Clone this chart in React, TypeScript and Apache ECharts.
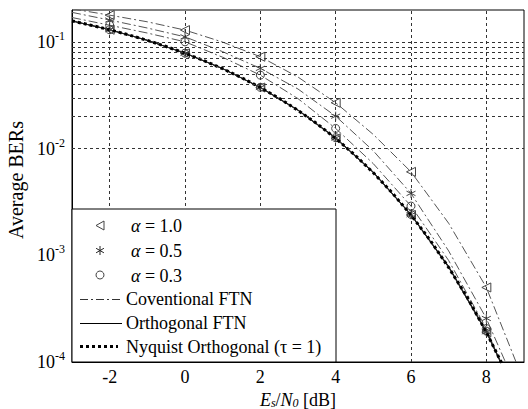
import React, { useEffect, useRef } from "react";
import * as echarts from "echarts";

// Nyquist orthogonal (tau = 1) curve, dense points
const nyquistX = [-3, -2.5, -2, -1.5, -1, -0.5, 0, 0.5, 1, 1.5, 2, 2.5, 3, 3.5, 4, 4.5, 5, 5.5, 6, 6.5, 7, 7.5, 8, 8.5];
const nyquistBER = [0.158, 0.144, 0.1306, 0.117, 0.1038, 0.0909, 0.0786, 0.0671, 0.0563, 0.0464, 0.0375, 0.0297, 0.0229, 0.0172, 0.0125, 0.0088, 0.00595, 0.00386, 0.00239, 0.0014, 0.00077, 0.0004, 0.00019, 0.000084];

// Curves with markers (markers drawn only at even Es/N0)
const curveX = [-3, -2, -1, 0, 1, 2, 3, 4, 5, 6, 7, 8, 9];
const convA10 = [0.205, 0.179, 0.155, 0.1296, 0.1, 0.0729, 0.047, 0.027, 0.0136, 0.00607, 0.002, 0.0005, 0.000065];
const convA05 = [0.19, 0.161, 0.1355, 0.112, 0.0813, 0.0567, 0.0363, 0.0202, 0.00955, 0.00381, 0.0011, 0.000256, 0.00004];
const convA03 = [0.17, 0.144, 0.1216, 0.1006, 0.0721, 0.049, 0.0295, 0.0155, 0.00724, 0.0029, 0.000895, 0.000206, 0.000029];
const orthA10 = [0.158, 0.1306, 0.1038, 0.0786, 0.0563, 0.0375, 0.0229, 0.0125, 0.00595, 0.00239, 0.00077, 0.00019, 0.000034];
const orthA05 = [0.158, 0.1306, 0.1039, 0.0787, 0.0564, 0.0376, 0.023, 0.0126, 0.006, 0.0024, 0.00078, 0.000192, 0.000034];
const orthA03 = [0.158, 0.1306, 0.104, 0.0788, 0.0565, 0.0377, 0.0231, 0.0127, 0.00605, 0.00242, 0.00079, 0.000195, 0.000035];

// Grid lines
const xGridValues = [-2, 0, 2, 4, 6, 8];
const yGridValues = [
  0.0002, 0.0003, 0.0004, 0.0005, 0.0006, 0.0007, 0.0008, 0.0009,
  0.001, 0.002, 0.003, 0.004, 0.005, 0.006, 0.007, 0.008, 0.009,
  0.01, 0.02, 0.03, 0.04, 0.05, 0.06, 0.07, 0.08, 0.09, 0.1,
];

const FONT = "'Liberation Serif', 'Times New Roman', serif";
const ASTERISK = "path://M5,0L5,10M0.67,2.5L9.33,7.5M0.67,7.5L9.33,2.5";

function withMarkers(ys: number[]) {
  return curveX.map((x, i) => {
    const item: any = { value: [x, ys[i]] };
    if (x % 2 !== 0) item.symbol = "none";
    return item;
  });
}

export default function App() {
  const ref = useRef<HTMLDivElement>(null);

  useEffect(() => {
    if (!ref.current) return;
    const chart = echarts.init(ref.current, undefined, { renderer: "svg" });

    const convStyle = { type: [9, 3, 2, 3], width: 1, color: "#555" };
    const orthStyle = { type: "solid", width: 1, color: "#222" };
    const markerItem = (c: string) => ({ color: "rgba(0,0,0,0)", borderColor: c, borderWidth: 1 });

    const mk = (name: string, ys: number[], lineStyle: any, symbol: string, size: number, rotate: number) => ({
      name,
      type: "line",
      data: withMarkers(ys),
      smooth: false,
      showSymbol: true,
      symbol,
      symbolSize: size,
      symbolRotate: rotate,
      lineStyle,
      itemStyle: markerItem("#444"),
      z: 3,
      silent: true,
    });

    const option: any = {
      animation: false,
      backgroundColor: "#fff",
      grid: {
        left: 72,
        top: 10,
        width: 452,
        height: 352,
        containLabel: false,
        outerBoundsMode: "none",
        show: true,
        borderColor: "#000",
        borderWidth: 1,
        backgroundColor: "#fff",
      },
      xAxis: {
        type: "value",
        min: -3,
        max: 9,
        interval: 1,
        name: "{i|E}{sub|s}{n|/}{i|N}{sub|0}{n| [dB]}",
        nameLocation: "middle",
        nameGap: 21,
        nameTextStyle: {
          rich: {
            i: { fontFamily: FONT, fontSize: 18, fontStyle: "italic", color: "#000", lineHeight: 18 },
            sub: { fontFamily: FONT, fontSize: 12, fontStyle: "italic", color: "#000", verticalAlign: "bottom", lineHeight: 10 },
            n: { fontFamily: FONT, fontSize: 18, color: "#000", lineHeight: 18 },
          },
        },
        axisLine: { show: true, onZero: false, lineStyle: { color: "#000", width: 1 } },
        axisTick: { show: false },
        splitLine: { show: false },
        axisLabel: {
          formatter: (v: number) => (Math.round(v) % 2 === 0 && Math.abs(v - Math.round(v)) < 1e-9 ? String(v) : ""),
          fontFamily: FONT,
          fontSize: 18,
          color: "#000",
          margin: 6,
        },
      },
      yAxis: {
        type: "log",
        logBase: 10,
        min: 0.0001,
        max: 0.2,
        name: "Average BERs",
        nameLocation: "middle",
        nameGap: 39,
        nameRotate: 90,
        nameTextStyle: { fontFamily: FONT, fontSize: 20, color: "#000", padding: [0, 0, 0, 12] },
        axisLine: { show: true, onZero: false, lineStyle: { color: "#000", width: 1 } },
        axisTick: { show: false },
        splitLine: { show: false },
        axisLabel: {
          formatter: (v: number) => {
            const l = Math.log10(v);
            const e = Math.round(l);
            if (Math.abs(l - e) > 1e-6) return "";
            return `{b|10}{s|${e}}`;
          },
          margin: 7,
          rich: {
            b: { fontFamily: FONT, fontSize: 18, color: "#000", lineHeight: 24 },
            s: { fontFamily: FONT, fontSize: 12, color: "#000", verticalAlign: "top", lineHeight: 12 },
          },
        },
      },
      series: [
        {
          name: "grid",
          type: "line",
          data: [],
          silent: true,
          z: 1,
          markLine: {
            silent: true,
            symbol: ["none", "none"],
            label: { show: false },
            animation: false,
            lineStyle: { type: [3, 3], color: "#333", width: 1 },
            data: [
              ...yGridValues.map((v) => ({ yAxis: v })),
              ...xGridValues.map((v) => ({ xAxis: v })),
            ],
          },
        },
        mk("Conventional FTN α = 1.0", convA10, convStyle, "triangle", 9, 90),
        mk("Conventional FTN α = 0.5", convA05, convStyle, ASTERISK, 9, 0),
        mk("Conventional FTN α = 0.3", convA03, convStyle, "circle", 8, 0),
        mk("Orthogonal FTN α = 1.0", orthA10, orthStyle, "triangle", 9, 90),
        mk("Orthogonal FTN α = 0.5", orthA05, orthStyle, ASTERISK, 9, 0),
        mk("Orthogonal FTN α = 0.3", orthA03, orthStyle, "circle", 8, 0),
        {
          name: "Nyquist Orthogonal (τ = 1)",
          type: "line",
          data: nyquistX.map((x, i) => [x, nyquistBER[i]]),
          showSymbol: false,
          symbol: "none",
          lineStyle: { type: [3, 3], width: 3, color: "#000", cap: "butt" },
          z: 4,
          silent: true,
        },
      ],
      graphic: [
        { type: "rect", z: 100, shape: { x: 72, y: 209, width: 264, height: 153 }, style: { fill: "#fff", stroke: "#000", lineWidth: 1 } },
        // markers
        { type: "polygon", z: 101, shape: { points: [[104, 221], [104, 230], [96, 225.5]] }, style: { fill: "none", stroke: "#444", lineWidth: 1 } },
        { type: "line", z: 101, shape: { x1: 100, y1: 246, x2: 100, y2: 255 }, style: { stroke: "#222", lineWidth: 1 } },
        { type: "line", z: 101, shape: { x1: 96.1, y1: 248.3, x2: 103.9, y2: 252.8 }, style: { stroke: "#222", lineWidth: 1 } },
        { type: "line", z: 101, shape: { x1: 96.1, y1: 252.8, x2: 103.9, y2: 248.3 }, style: { stroke: "#222", lineWidth: 1 } },
        { type: "circle", z: 101, shape: { cx: 100, cy: 275, r: 4 }, style: { fill: "none", stroke: "#444", lineWidth: 1 } },
        // line samples
        { type: "line", z: 101, shape: { x1: 80, y1: 299.5, x2: 122, y2: 299.5 }, style: { stroke: "#333", lineWidth: 1, lineDash: [8, 3, 2, 3] } },
        { type: "line", z: 101, shape: { x1: 80, y1: 323.5, x2: 122, y2: 323.5 }, style: { stroke: "#000", lineWidth: 1 } },
        { type: "line", z: 101, shape: { x1: 80, y1: 346.5, x2: 118, y2: 346.5 }, style: { stroke: "#000", lineWidth: 3, lineDash: [3, 3] } },
        // texts
        ...[
          ["{g|α} = 1.0", 226],
          ["{g|α} = 0.5", 251],
          ["{g|α} = 0.3", 276],
        ].map(([t, y]) => ({
          type: "text",
          z: 101,
          x: 131,
          y: y as number,
          style: {
            text: t as string,
            fontFamily: FONT,
            fontSize: 18,
            fill: "#000",
            verticalAlign: "middle",
            rich: { g: { fontFamily: FONT, fontSize: 18, fontStyle: "italic", fill: "#000" } },
          },
        })),
        ...[
          ["Coventional FTN", 299],
          ["Orthogonal FTN", 323],
          ["Nyquist Orthogonal (τ = 1)", 347],
        ].map(([t, y]) => ({
          type: "text",
          z: 101,
          x: 126,
          y: y as number,
          style: { text: t as string, fontFamily: FONT, fontSize: 18, fill: "#000", verticalAlign: "middle" },
        })),
      ],
    };

    chart.setOption(option);
    return () => chart.dispose();
  }, []);

  return (
    <div
      ref={ref}
      style={{ position: "fixed", left: 0, top: 0, width: 528, height: 409, background: "#fff" }}
    />
  );
}
